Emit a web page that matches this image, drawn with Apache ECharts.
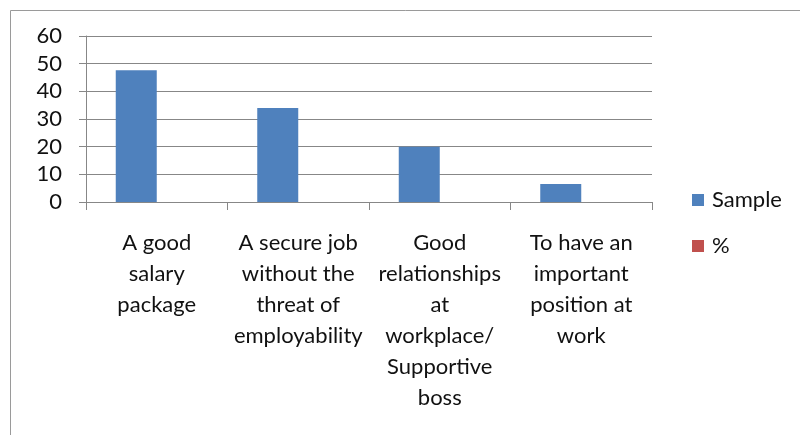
<!DOCTYPE html>
<html>
<head>
<meta charset="utf-8">
<script src="https://cdn.jsdelivr.net/npm/echarts@6/dist/echarts.min.js"></script>
<style>
html,body{margin:0;padding:0;background:#fff;}
#main{width:800px;height:435px;}
</style>
</head>
<body>
<div id="main"></div>
<script>
var categories = [
  "A good\nsalary\npackage",
  "A secure job\nwithout the\nthreat of\nemployability",
  "Good\nrelationships\nat\nworkplace/\nSupportive\nboss",
  "To have an\nimportant\nposition at\nwork"
];
var sampleValues = [47.6, 34.0, 20.0, 6.5];
var pctValues = [null, null, null, null];
var yTicks = { min: 0, max: 60, interval: 10 };

var FONT = 'Lato';
var FS = 22;
var chart = echarts.init(document.getElementById('main'));
chart.setOption({
  animation: false,
  backgroundColor: '#fff',
  graphic: [{
    type: 'rect',
    shape: { x: 10.5, y: 10.5, width: 820, height: 460 },
    style: { fill: 'none', stroke: '#9a9a9a', lineWidth: 1 },
    silent: true
  }],
  legend: {
    orient: 'vertical',
    left: 692,
    top: 189,
    padding: 0,
    itemWidth: 12,
    itemHeight: 12,
    itemGap: 24,
    icon: 'rect',
    textStyle: { fontFamily: FONT, fontSize: FS, color: '#111', padding: [0, 0, 0, 3] },
    data: ['Sample', '%']
  },
  grid: { left: 86, right: 148, top: 36, bottom: 233, containLabel: false },
  xAxis: {
    type: 'category',
    data: categories,
    boundaryGap: true,
    axisLine: { lineStyle: { color: '#878787', width: 1 } },
    axisTick: { show: true, length: 8, alignWithLabel: false, lineStyle: { color: '#878787' } },
    axisLabel: {
      interval: 0,
      margin: 25,
      fontFamily: FONT,
      fontSize: FS,
      lineHeight: 31,
      color: '#111',
      align: 'center',
      verticalAlign: 'top'
    },
    splitLine: { show: false }
  },
  yAxis: {
    type: 'value',
    min: yTicks.min,
    max: yTicks.max,
    interval: yTicks.interval,
    axisLine: { show: true, lineStyle: { color: '#878787', width: 1 } },
    axisTick: { show: true, length: 7, lineStyle: { color: '#878787' } },
    axisLabel: { margin: 24, fontFamily: FONT, fontSize: FS, color: '#111' },
    splitLine: { show: true, lineStyle: { color: '#878787', width: 1 } }
  },
  series: [
    {
      name: 'Sample',
      type: 'bar',
      data: sampleValues,
      barWidth: 41,
      barGap: '0%',
      itemStyle: { color: '#4f81bd' }
    },
    {
      name: '%',
      type: 'bar',
      data: pctValues,
      barWidth: 41,
      barGap: '0%',
      itemStyle: { color: '#c0504d' }
    }
  ]
});
</script>
</body>
</html>
